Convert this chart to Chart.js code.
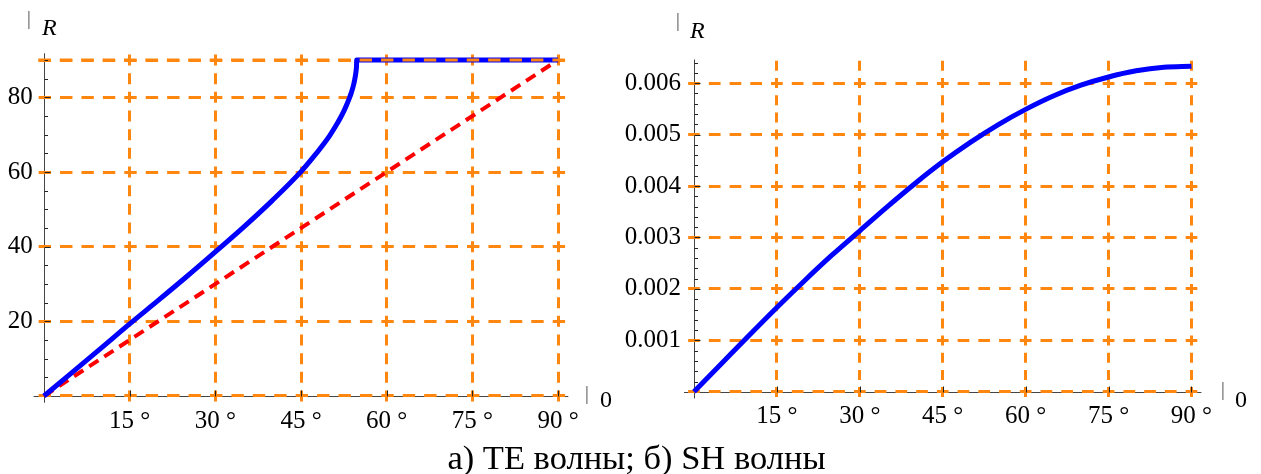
<!DOCTYPE html>
<html>
<head>
<meta charset="utf-8">
<script src="https://cdn.jsdelivr.net/npm/chart.js@4.4.0/dist/chart.umd.min.js"></script>
<style>
  html, body { margin: 0; padding: 0; background: #fff; }
  body { width: 1261px; height: 474px; position: relative; overflow: hidden; font-family: "Liberation Serif", "Times New Roman", serif; }
  canvas { position: absolute; top: 0; }
  #teCanvas { left: 0; }
  #shCanvas { left: 610px; }
  #caption { position: absolute; left: 6px; top: 437px; width: 1261px; text-align: center; font-size: 34.5px; line-height: 40px; color: #000; white-space: nowrap; }
</style>
</head>
<body>
<canvas id="teCanvas" width="630" height="440"></canvas>
<canvas id="shCanvas" width="651" height="440"></canvas>
<div id="caption">а) ТЕ волны; б) SH волны</div>
<script>
// TE waves: reflected angle vs incidence angle (degrees)
const teAngles = [0, 5, 10, 15, 20, 25, 30, 35, 40, 45, 47, 49, 50, 51, 52, 52.5, 53, 53.5, 53.8, 54, 54.2, 54.4, 54.55, 54.65, 54.72, 54.75, 60, 75, 90];
const teValues = [0, 6.4, 12.8, 19.3, 25.6, 32.0, 38.6, 45.3, 52.4, 60.1, 63.7, 67.6, 69.7, 72.1, 74.8, 76.3, 78.0, 79.9, 81.2, 82.2, 83.3, 84.7, 86.0, 87.2, 88.4, 90, 90, 90, 90];
// reference diagonal (equal angles)
const diagAngles = [0, 90];
const diagValues = [0, 90];

// SH waves
const shAngles = [0, 5, 10, 15, 20, 25, 30, 35, 40, 45, 50, 55, 60, 65, 70, 75, 80, 85, 90];
const shValues = [0, 0.00055, 0.00110, 0.00164, 0.00216, 0.00266, 0.00313, 0.00360, 0.00405, 0.00447, 0.00485, 0.00519, 0.00549, 0.00575, 0.00596, 0.00612, 0.00624, 0.00631, 0.00633];

// ticks and grid
const degreeTicks = [15, 30, 45, 60, 75, 90];
const teGridY = [0, 20, 40, 60, 80, 90];
const teLabelsY = ['', '20', '40', '60', '80', ''];
const shGridY = [0, 0.001, 0.002, 0.003, 0.004, 0.005, 0.006];
const shLabelsY = ['', '0.001', '0.002', '0.003', '0.004', '0.005', '0.006'];

const ORANGE = 'rgb(255,135,15)';
const SERIF = '"Liberation Serif", "Times New Roman", serif';

Chart.defaults.font.family = SERIF;
Chart.defaults.font.size = 25;
Chart.defaults.color = '#000';

const toPoints = (xs, ys) => xs.map((x, i) => ({ x, y: ys[i] }));

// axes through the origin, tick marks and axis captions
const originAxes = {
  id: 'originAxes',
  beforeDraw(chart, args, o) {
    const { ctx, scales: { x, y } } = chart;
    const x0 = Math.round(x.getPixelForValue(0)) + 0.5;
    const y0 = Math.round(y.getPixelForValue(0)) + 0.5;
    ctx.save();
    ctx.strokeStyle = '#444';
    ctx.lineWidth = 1;
    ctx.beginPath();
    ctx.moveTo(x.left, y0); ctx.lineTo(x.right, y0);
    ctx.moveTo(x0, y.top); ctx.lineTo(x0, y.bottom);
    ctx.stroke();
    ctx.restore();
  },
  afterDatasetsDraw(chart, args, o) {
    const { ctx, chartArea, scales: { x, y } } = chart;
    const x0 = Math.round(x.getPixelForValue(0)) + 0.5;
    const y0 = Math.round(y.getPixelForValue(0)) + 0.5;
    ctx.save();
    // grid line that lies over the flat part of the curve
    if (o.overlayY !== undefined) {
      const py = y.getPixelForValue(o.overlayY);
      ctx.strokeStyle = ORANGE;
      ctx.lineWidth = 3;
      ctx.setLineDash(o.hDash);
      ctx.lineDashOffset = o.hDashOffset;
      ctx.beginPath();
      ctx.moveTo(chartArea.left, py); ctx.lineTo(chartArea.right, py);
      ctx.stroke();
      ctx.setLineDash([]);
    }
    ctx.strokeStyle = '#222';
    ctx.lineWidth = 1;
    ctx.beginPath();
    for (let v = o.yMinorStep; v <= o.yMinorMax + 1e-12; v += o.yMinorStep) {
      const py = Math.round(y.getPixelForValue(v)) + 0.5;
      const isMajor = o.yMajor.some(m => Math.abs(m - v) < o.yMinorStep / 10);
      ctx.moveTo(x0, py); ctx.lineTo(x0 + (isMajor ? 6 : 3.5), py);
    }
    for (const v of degreeTicks) {
      const px = Math.round(x.getPixelForValue(v)) + 0.5;
      ctx.moveTo(px, y0); ctx.lineTo(px, y0 - 6);
    }
    ctx.stroke();
    ctx.restore();
  },
  afterDraw(chart, args, o) {
    const { ctx } = chart;
    ctx.save();
    ctx.textBaseline = 'alphabetic';
    ctx.fillStyle = '#888';
    ctx.font = '17px "DejaVu Sans", sans-serif';
    ctx.fillText('|', o.rBar[0], o.rBar[1]);
    ctx.fillText('|', o.tBar[0], o.tBar[1]);
    ctx.fillStyle = '#000';
    ctx.font = 'italic 24px ' + SERIF;
    ctx.fillText('R', o.rText[0], o.rText[1]);
    ctx.font = '24px ' + SERIF;
    ctx.fillText('0', o.tText[0], o.tText[1]);
    ctx.restore();
  }
};

function makeChart(id, cfg) {
  return new Chart(document.getElementById(id), {
    type: 'line',
    data: { datasets: cfg.datasets },
    options: {
      responsive: false,
      animation: false,
      events: [],
      layout: { padding: cfg.padding },
      plugins: { legend: { display: false }, tooltip: { enabled: false }, originAxes: cfg.axes },
      scales: {
        x: {
          type: 'linear', position: 'bottom', min: cfg.xRange[0], max: cfg.xRange[1],
          afterBuildTicks: s => { s.ticks = degreeTicks.map(v => ({ value: v })); },
          afterFit: s => { s.height = cfg.xAxisHeight; },
          grid: { color: ORANGE, lineWidth: 3, drawTicks: false },
          border: { display: false, dash: cfg.vDash, dashOffset: cfg.vDashOffset },
          ticks: { autoSkip: false, maxRotation: 0, minRotation: 0, padding: cfg.xLabelPad, callback: v => v + ' °' }
        },
        y: {
          type: 'linear', position: 'left', min: cfg.yRange[0], max: cfg.yRange[1],
          afterBuildTicks: s => { s.ticks = cfg.yGrid.map(v => ({ value: v })); },
          afterFit: s => { s.width = cfg.yAxisWidth; },
          grid: { color: ORANGE, lineWidth: 3, drawTicks: false },
          border: { display: false, dash: cfg.axes.hDash, dashOffset: cfg.axes.hDashOffset },
          ticks: { autoSkip: false, padding: cfg.yLabelPad, callback: (v, i) => cfg.yLabels[i] }
        }
      }
    },
    plugins: [originAxes]
  });
}

const blueLine = { borderColor: '#0000ff', borderWidth: 5, pointRadius: 0, fill: false, cubicInterpolationMode: 'monotone', borderJoinStyle: 'round' };

makeChart('teCanvas', {
  datasets: [
    Object.assign({ data: toPoints(teAngles, teValues), order: 1 }, blueLine),
    { data: toPoints(diagAngles, diagValues), borderColor: '#ff0000', borderWidth: 4, borderDash: [11, 7], pointRadius: 0, fill: false, order: 2 }
  ],
  padding: { left: 0, right: 61.7, top: 53.3, bottom: 0 },
  xRange: [-1.8, 91.8], yRange: [-1.8, 91.8],
  xAxisHeight: 37.3, yAxisWidth: 33.7, yLabelPad: 1, xLabelPad: 4,
  yGrid: teGridY, yLabels: teLabelsY,
  vDash: [11, 7.67], vDashOffset: 17.5,
  axes: {
    hDash: [12.4, 9.02], hDashOffset: 16.8, overlayY: 90,
    yMinorStep: 5, yMinorMax: 90, yMajor: [20, 40, 60, 80],
    rBar: [26, 25], rText: [42, 35], tBar: [584, 400], tText: [600, 407]
  }
});

makeChart('shCanvas', {
  datasets: [ Object.assign({ data: toPoints(shAngles, shValues) }, blueLine) ],
  padding: { left: 0, right: 59.6, top: 59.5, bottom: 0 },
  xRange: [-1.8, 91.8], yRange: [-0.00013, 0.00646],
  xAxisHeight: 41.5, yAxisWidth: 74, yLabelPad: 3, xLabelPad: 3,
  yGrid: shGridY, yLabels: shLabelsY,
  vDash: [10, 7.17], vDashOffset: 15.8,
  axes: {
    hDash: [11.7, 9.03], hDashOffset: 16.6,
    yMinorStep: 0.0002, yMinorMax: 0.0064, yMajor: [0.001, 0.002, 0.003, 0.004, 0.005, 0.006],
    rBar: [65, 27], rText: [80, 38], tBar: [610, 396], tText: [625, 407]
  }
});
</script>
</body>
</html>
